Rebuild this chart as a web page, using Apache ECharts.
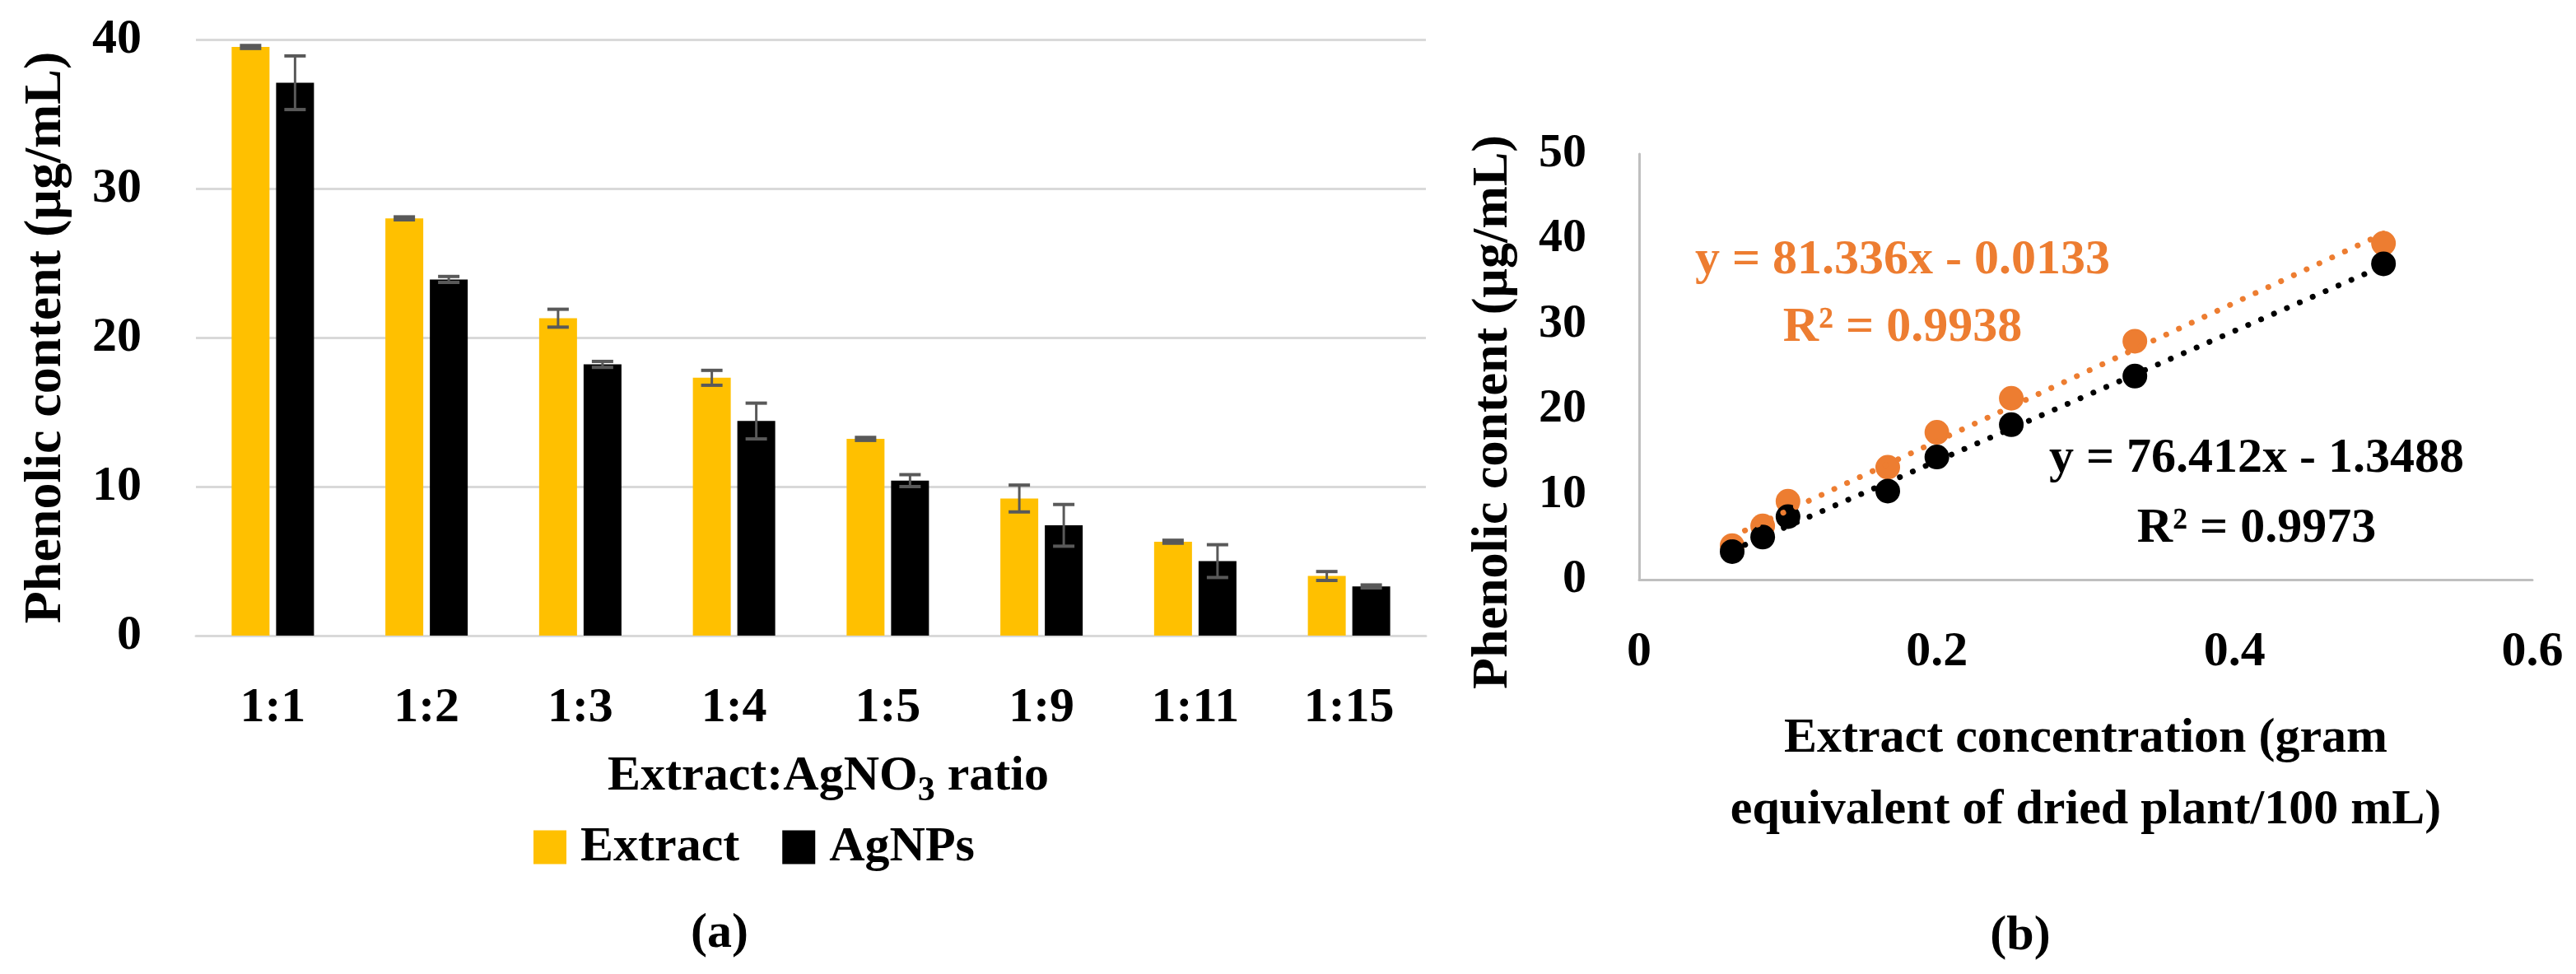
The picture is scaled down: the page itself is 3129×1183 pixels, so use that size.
<!DOCTYPE html>
<html>
<head>
<meta charset="utf-8">
<script src="https://cdn.jsdelivr.net/npm/echarts@6/dist/echarts.min.js"></script>
<style>
  html, body { margin: 0; padding: 0; background: #ffffff; }
  #chart { width: 3129px; height: 1183px; }
</style>
</head>
<body>
<div id="chart"></div>
<script>
// ---------- data ----------
const categories = ['1:1', '1:2', '1:3', '1:4', '1:5', '1:9', '1:11', '1:15'];
const extractValues = [39.5, 28.0, 21.3, 17.3, 13.2, 9.2, 6.3, 4.0];
const extractErrors = [0.1, 0.1, 0.6, 0.5, 0.1, 0.9, 0.1, 0.3];
const agnpValues = [37.1, 23.9, 18.2, 14.4, 10.4, 7.4, 5.0, 3.3];
const agnpErrors = [1.8, 0.2, 0.2, 1.2, 0.4, 1.4, 1.1, 0.1];
const concentration = [0.5, 0.333, 0.25, 0.2, 0.167, 0.1, 0.083, 0.0625];
const extractTrend = [81.336, -0.0133];   // slope, intercept (from chart)
const agnpTrend = [76.412, -1.3488];
const leftYTicks = [0, 40, 10];
const rightXTicks = [0, 0.6, 0.2];
const rightYTicks = [0, 50, 10];

// ---------- style constants ----------
const FONT = 'Liberation Serif';
const YELLOW = '#FFC000';
const ORANGE = '#ED7D31';
const BAR_W = 46;
const BAR_GAP_PX = 8;

const chart = echarts.init(document.getElementById('chart'), null, { renderer: 'canvas' });

function errRenderer(offset) {
  return function (params, api) {
    const i = api.value(0);
    const v = api.value(1);
    const e = api.value(2);
    const top = api.coord([i, v + e]);
    const bot = api.coord([i, v - e]);
    const x = top[0] + offset;
    const cw = 13;
    const st = { stroke: '#595959', lineWidth: 3 };
    return {
      type: 'group',
      children: [
        { type: 'line', shape: { x1: x, y1: top[1], x2: x, y2: bot[1] }, style: st },
        { type: 'line', shape: { x1: x - cw, y1: top[1], x2: x + cw, y2: top[1] }, style: { stroke: '#595959', lineWidth: 4 } },
        { type: 'line', shape: { x1: x - cw, y1: bot[1], x2: x + cw, y2: bot[1] }, style: { stroke: '#595959', lineWidth: 4 } }
      ]
    };
  };
}

function trendData(coef, xs) {
  const lo = Math.min.apply(null, xs), hi = Math.max.apply(null, xs);
  return [[lo, coef[0] * lo + coef[1]], [hi, coef[0] * hi + coef[1]]];
}

const half = (BAR_W + BAR_GAP_PX) / 2;

const option = {
  backgroundColor: '#ffffff',
  animation: false,
  textStyle: { fontFamily: FONT, color: '#000' },
  legend: {
    data: ['Extract', 'AgNPs'],
    left: 643,
    top: 994,
    icon: 'rect',
    itemWidth: 40,
    itemHeight: 41,
    itemGap: 52,
    textStyle: { fontFamily: FONT, fontSize: 60, fontWeight: 'bold', color: '#000', padding: [0, 0, 0, 12] }
  },
  grid: [
    { left: 238, right: 3129 - 1732, top: 48, bottom: 1183 - 772 },
    { left: 1991, right: 3129 - 3076, top: 187, bottom: 1183 - 704 }
  ],
  xAxis: [
    {
      gridIndex: 0,
      type: 'category',
      data: categories,
      axisLine: { lineStyle: { color: '#D9D9D9', width: 3 } },
      axisTick: { show: false },
      axisLabel: { fontFamily: FONT, fontSize: 60, fontWeight: 'bold', color: '#000', margin: 58 },
      name: '{a|Extract:AgNO}{s|3}{a| ratio}',
      nameLocation: 'middle',
      nameGap: 134,
      nameTextStyle: {
        padding: [0, 0, 0, 42],
        rich: {
          a: { fontFamily: FONT, fontSize: 60, fontWeight: 'bold', color: '#000', lineHeight: 74, verticalAlign: 'middle' },
          s: { fontFamily: FONT, fontSize: 42, fontWeight: 'bold', color: '#000', lineHeight: 42, padding: [36, 0, 0, 0], verticalAlign: 'middle' }
        }
      }
    },
    {
      gridIndex: 1,
      type: 'value',
      min: rightXTicks[0],
      max: rightXTicks[1],
      interval: rightXTicks[2],
      axisLine: { show: true, lineStyle: { color: '#BFBFBF', width: 3 } },
      axisTick: { show: false },
      splitLine: { show: false },
      axisLabel: { fontFamily: FONT, fontSize: 60, fontWeight: 'bold', color: '#000', margin: 58 },
      name: 'Extract concentration (gram\nequivalent of dried plant/100 mL)',
      nameLocation: 'middle',
      nameGap: 150,
      nameTextStyle: { fontFamily: FONT, fontSize: 60, fontWeight: 'bold', color: '#000', lineHeight: 87 }
    }
  ],
  yAxis: [
    {
      gridIndex: 0,
      type: 'value',
      min: leftYTicks[0],
      max: leftYTicks[1],
      interval: leftYTicks[2],
      axisLine: { show: false },
      axisTick: { show: false },
      splitLine: { lineStyle: { color: '#D9D9D9', width: 3 } },
      axisLabel: { fontFamily: FONT, fontSize: 60, fontWeight: 'bold', color: '#000', margin: 66 },
      name: 'Phenolic content (µg/mL)',
      nameLocation: 'middle',
      nameGap: 150,
      nameTextStyle: { fontFamily: FONT, fontSize: 64, fontWeight: 'bold', color: '#000' }
    },
    {
      gridIndex: 1,
      type: 'value',
      min: rightYTicks[0],
      max: rightYTicks[1],
      interval: rightYTicks[2],
      axisLine: { show: true, lineStyle: { color: '#BFBFBF', width: 3 } },
      axisTick: { show: false },
      splitLine: { show: false },
      axisLabel: { fontFamily: FONT, fontSize: 58, fontWeight: 'bold', color: '#000', margin: 64 },
      name: 'Phenolic content (µg/mL)',
      nameLocation: 'middle',
      nameGap: 146,
      nameTextStyle: { fontFamily: FONT, fontSize: 62, fontWeight: 'bold', color: '#000', padding: [0, 110, 0, 0] }
    }
  ],
  series: [
    {
      name: 'Extract',
      type: 'bar',
      xAxisIndex: 0, yAxisIndex: 0,
      data: extractValues,
      barWidth: BAR_W,
      barGap: (BAR_GAP_PX / BAR_W * 100).toFixed(1) + '%',
      itemStyle: { color: YELLOW }
    },
    {
      name: 'AgNPs',
      type: 'bar',
      xAxisIndex: 0, yAxisIndex: 0,
      data: agnpValues,
      barWidth: BAR_W,
      itemStyle: { color: '#000000' }
    },
    {
      name: 'Extract error',
      type: 'custom',
      xAxisIndex: 0, yAxisIndex: 0,
      renderItem: errRenderer(-half),
      data: categories.map((c, i) => [i, extractValues[i], extractErrors[i]]),
      encode: { x: 0, y: 1 },
      z: 5
    },
    {
      name: 'AgNPs error',
      type: 'custom',
      xAxisIndex: 0, yAxisIndex: 0,
      renderItem: errRenderer(half),
      data: categories.map((c, i) => [i, agnpValues[i], agnpErrors[i]]),
      encode: { x: 0, y: 1 },
      z: 5
    },
    {
      name: 'Extract points',
      type: 'scatter',
      xAxisIndex: 1, yAxisIndex: 1,
      symbolSize: 30,
      data: concentration.map((x, i) => [x, extractValues[i]]),
      itemStyle: { color: ORANGE, opacity: 1 },
      z: 2
    },
    {
      name: 'AgNPs points',
      type: 'scatter',
      xAxisIndex: 1, yAxisIndex: 1,
      symbolSize: 30,
      data: concentration.map((x, i) => [x, agnpValues[i]]),
      itemStyle: { color: '#000000', opacity: 1 },
      z: 3
    },
    {
      name: 'Extract trend',
      type: 'line',
      xAxisIndex: 1, yAxisIndex: 1,
      data: trendData(extractTrend, concentration),
      showSymbol: false,
      symbol: 'none',
      lineStyle: { color: ORANGE, width: 7, type: [0.1, 17], cap: 'round' },
      z: 4
    },
    {
      name: 'AgNPs trend',
      type: 'line',
      xAxisIndex: 1, yAxisIndex: 1,
      data: trendData(agnpTrend, concentration),
      showSymbol: false,
      symbol: 'none',
      lineStyle: { color: '#000000', width: 7, type: [0.1, 17], cap: 'round' },
      z: 4
    }
  ],
  graphic: [
    { type: 'text', x: 2311, y: 316, style: { text: 'y = 81.336x - 0.0133', fill: ORANGE, font: 'bold 60px "Liberation Serif"', align: 'center', verticalAlign: 'middle' } },
    { type: 'text', x: 2311, y: 398, style: { text: 'R² = 0.9938', fill: ORANGE, font: 'bold 60px "Liberation Serif"', align: 'center', verticalAlign: 'middle' } },
    { type: 'text', x: 2741, y: 557, style: { text: 'y = 76.412x - 1.3488', fill: '#000', font: 'bold 60px "Liberation Serif"', align: 'center', verticalAlign: 'middle' } },
    { type: 'text', x: 2741, y: 642, style: { text: 'R² = 0.9973', fill: '#000', font: 'bold 60px "Liberation Serif"', align: 'center', verticalAlign: 'middle' } },
    { type: 'text', x: 874, y: 1134, style: { text: '(a)', fill: '#000', font: 'bold 60px "Liberation Serif"', align: 'center', verticalAlign: 'middle' } },
    { type: 'text', x: 2454, y: 1137, style: { text: '(b)', fill: '#000', font: 'bold 60px "Liberation Serif"', align: 'center', verticalAlign: 'middle' } }
  ]
};

chart.setOption(option);
</script>
</body>
</html>
